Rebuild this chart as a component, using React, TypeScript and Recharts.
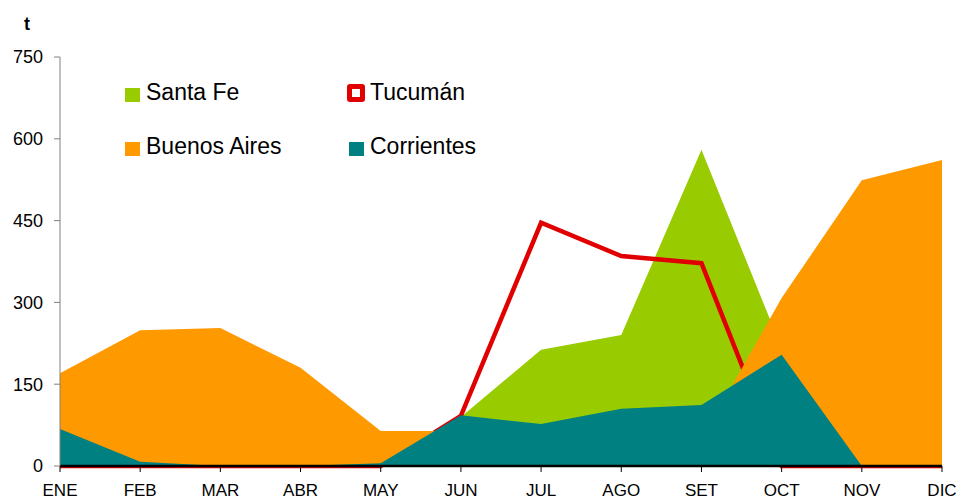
import React from 'react';
import { ComposedChart, Area, XAxis, YAxis, ReferenceLine } from 'recharts';

const months = ['ENE', 'FEB', 'MAR', 'ABR', 'MAY', 'JUN', 'JUL', 'AGO', 'SET', 'OCT', 'NOV', 'DIC'];
const santaFe = [0, 0, 0, 0, 0, 90, 213, 240, 580, 216, 0, 0];
const tucuman = [0, 0, 0, 0, 0, 92, 446, 385, 372, 0, 0, 0];
const buenosAires = [170, 249, 253, 180, 64, 64, 0, 0, 48, 308, 524, 561];
const corrientes = [68, 8, 0, 0, 5, 93, 77, 105, 112, 204, 0, 0];
const yTicks = [0, 150, 300, 450, 600, 750];

const data = months.map((m, i) => ({
  month: m,
  santaFe: santaFe[i],
  tucuman: tucuman[i],
  buenosAires: buenosAires[i],
  corrientes: corrientes[i],
}));

const font = '"Liberation Sans", Arial, sans-serif';

const legendItems = [
  { label: 'Santa Fe', color: '#99cc00', x: 125, y: 79, outline: false, gap: 6 },
  { label: 'Tucumán', color: '#e00000', x: 347, y: 79, outline: true, gap: 5 },
  { label: 'Buenos Aires', color: '#ff9900', x: 125, y: 133, outline: false, gap: 6 },
  { label: 'Corrientes', color: '#008080', x: 349, y: 133, outline: false, gap: 6 },
];

export default function App() {
  return (
    <div style={{ position: 'absolute', left: 0, top: 0, width: 958, height: 502, background: '#fff', fontFamily: font, overflow: 'hidden' }}>
      <ComposedChart width={958} height={502} data={data} margin={{ top: 57, right: 16, bottom: 0, left: 0 }}>
        <XAxis
          dataKey="month"
          height={36}
          tick={{ fill: '#000', fontSize: 17, fontFamily: font }}
          tickLine={{ stroke: '#000' }}
          axisLine={{ stroke: '#000' }}
          tickSize={6}
          tickMargin={12}
          interval={0}
        />
        <YAxis
          width={60}
          domain={[0, 750]}
          ticks={yTicks}
          tick={{ fill: '#000', fontSize: 18, fontFamily: font }}
          tickLine={{ stroke: '#808080' }}
          axisLine={{ stroke: '#808080' }}
          tickSize={6}
          tickMargin={11}
          interval={0}
        />
        <Area type="linear" dataKey="santaFe" fill="#99cc00" fillOpacity={1} stroke="none" isAnimationActive={false} />
        <Area type="linear" dataKey="tucuman" fill="none" fillOpacity={0} stroke="#e00000" strokeWidth={4.5} isAnimationActive={false} />
        <Area type="linear" dataKey="buenosAires" fill="#ff9900" fillOpacity={1} stroke="none" isAnimationActive={false} />
        <Area type="linear" dataKey="corrientes" fill="#008080" fillOpacity={1} stroke="none" isAnimationActive={false} />
        <ReferenceLine y={0} stroke="#000" strokeWidth={2.5} ifOverflow="visible" />
      </ComposedChart>
      <div style={{ position: 'absolute', left: 24, top: 14, fontSize: 18, fontWeight: 'bold' }}>t</div>
      {legendItems.map((it) => (
        <div key={it.label} style={{ position: 'absolute', left: it.x, top: it.y, display: 'flex', alignItems: 'center', fontSize: 23, color: '#000', whiteSpace: 'nowrap' }}>
          <div
            style={{
              width: it.outline ? 8 : 15,
              height: it.outline ? 8 : 14,
              background: it.outline ? '#fff' : it.color,
              border: it.outline ? `5px solid ${it.color}` : 'none',
              borderRadius: it.outline ? 3 : 0,
              marginRight: it.gap,
              marginTop: it.outline ? 0 : 4,
            }}
          />
          <span>{it.label}</span>
        </div>
      ))}
    </div>
  );
}
